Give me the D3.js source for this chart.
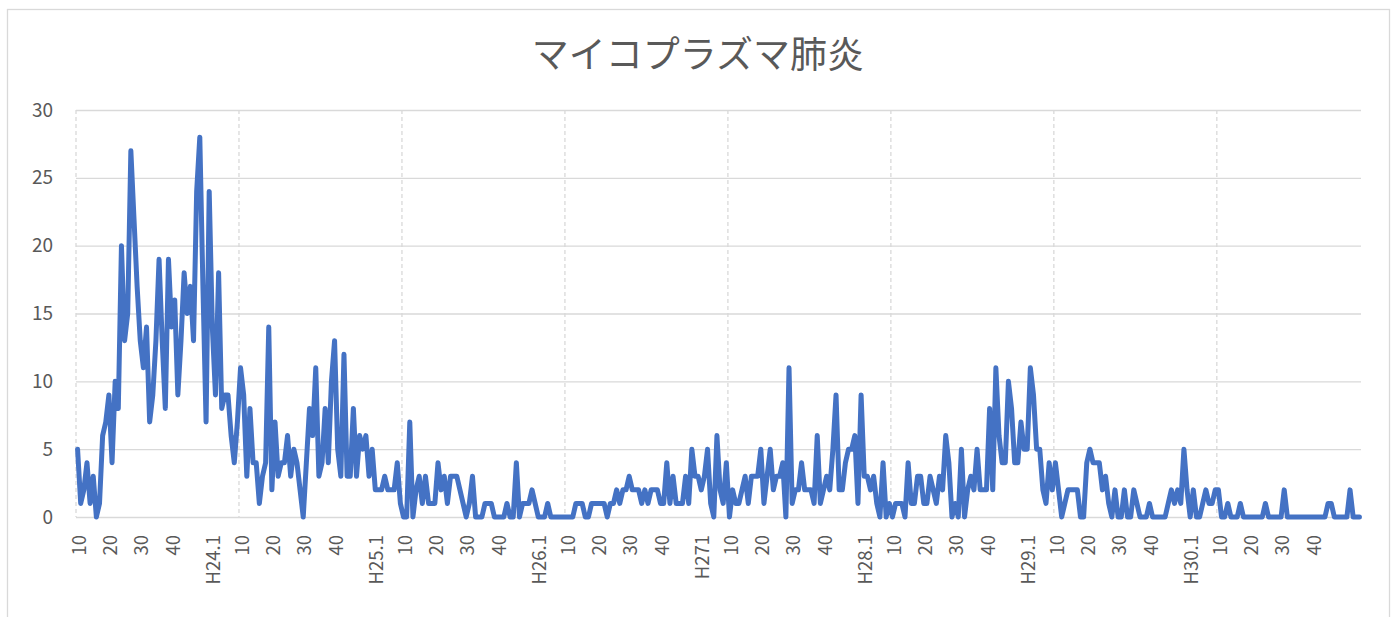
<!DOCTYPE html>
<html>
<head>
<meta charset="utf-8">
<script src="https://cdn.jsdelivr.net/npm/d3@7"></script>
<style>
  html, body { margin: 0; padding: 0; background: #ffffff; }
  svg { display: block; }
  text { font-family: "Noto Sans CJK JP", "Noto Sans", sans-serif; fill: #595959; }
</style>
</head>
<body>
<svg id="chart" width="1400" height="617"></svg>
<script>
// Weekly reported cases of mycoplasma pneumonia, from H23 week 9 onwards.
const cases = [
  // H23 (from week 9) / start of H24
  5,1,2,4,1,3,0,1,6,7, 9,4,10,8,20,13,15,27,22,17, 13,11,14,7,9,13,19,13,8,19,
  14,16,9,13,18,15,17,13,24,28, 17,7,24,14,9,18,8,9,9,6, 4,7,
  11,9,3,8,4,4,1,3,4,14, 2,7,3,4,4,6,3,5,4,2, 0,4,8,6,11,3,4,8,4,10,
  13,5,3,12,3,3,8,3,6,5, 6,3,5,2,2,2,3,2,2,2, 4,1,
  0,0,7,0,2,3,1,3,1,1, 1,4,2,3,1,3,3,3,2,1, 0,1,3,0,0,0,1,1,1,0,
  0,0,0,1,0,0,4,0,1,1, 1,2,1,0,0,0,1,0,0,0, 0,0,
  0,0,0,1,1,1,0,0,1,1, 1,1,1,0,1,1,2,1,2,2, 3,2,2,2,1,2,1,2,2,2,
  1,1,4,1,3,1,1,1,3,1, 5,3,3,2,3,5,1,0,6,2, 1,4,
  0,2,1,1,2,3,1,3,3,3, 5,1,3,5,2,3,3,4,0,11, 1,2,2,4,2,2,2,1,6,1,
  2,3,2,5,9,2,2,4,5,5, 6,1,9,3,3,2,3,1,0,4, 0,1,
  0,1,1,1,0,4,1,1,3,3, 1,1,3,2,1,3,2,6,4,0, 1,0,5,0,2,3,2,5,2,2,
  2,8,2,11,6,4,4,10,8,4, 4,7,5,5,11,9,5,5,2,1, 4,2,
  4,2,0,1,2,2,2,2,0,0, 4,5,4,4,4,2,3,1,0,2, 0,0,2,0,0,2,1,0,0,0,
  1,0,0,0,0,0,1,2,1,2, 1,5,2,0,2,0,0,1,2,1, 1,2,
  2,0,0,1,0,0,0,1,0,0, 0,0,0,0,0,1,0,0,0,0, 0,2,0,0,0,0,0,0,0,0,
  0,0,0,0,0,1,1,0,0,0, 0,0,2,0,0,0
];

const yTicks = [0, 5, 10, 15, 20, 25, 30];
const yearLabels = ["H24.1", "H25.1", "H26.1", "H271", "H28.1", "H29.1", "H30.1"];
const weekMarks = [10, 20, 30, 40];
const firstWeek = 9;        // first week of the series in H23
const weeksPerYear = 52;
const gridEvery = 52;       // vertical gridline interval (categories)
const title = "マイコプラズマ肺炎";

// Category label for each week: year start gets the year label, weeks 10/20/30/40 get the number.
const firstYearLen = weeksPerYear - firstWeek + 1;
const weekLabel = cases.map((_, i) => {
  if (i < firstYearLen) {
    const wk = firstWeek + i;
    return weekMarks.includes(wk) ? String(wk) : "";
  }
  const j = i - firstYearLen;
  const yr = Math.floor(j / weeksPerYear);
  const wk = (j % weeksPerYear) + 1;
  if (yr >= yearLabels.length) return "";
  if (wk === 1) return yearLabels[yr];
  return weekMarks.includes(wk) ? String(wk) : "";
});

const svg = d3.select("#chart");
const plot = { left: 76, right: 1361, top: 110, bottom: 517 };

// outer chart frame
svg.append("rect")
  .attr("x", 7.5).attr("y", 9.5)
  .attr("width", 1382).attr("height", 640)
  .attr("fill", "#ffffff")
  .attr("stroke", "#d9d9d9").attr("stroke-width", 1.3);

const x = d3.scaleBand()
  .domain(d3.range(cases.length))
  .range([plot.left, plot.right])
  .paddingInner(0).paddingOuter(0);
const bw = x.bandwidth();
const cx = i => x(i) + bw / 2;

const y = d3.scaleLinear().domain([0, 30]).range([plot.bottom, plot.top]);

// horizontal gridlines + value labels
const yAxis = d3.axisLeft(y)
  .tickValues(yTicks)
  .tickSize(-(plot.right - plot.left))
  .tickPadding(23);
const gy = svg.append("g")
  .attr("transform", `translate(${plot.left},0)`)
  .call(yAxis);
gy.select(".domain").remove();
gy.selectAll(".tick line").attr("stroke", "#d9d9d9").attr("stroke-width", 1.3);
gy.selectAll(".tick text")
  .attr("font-size", 19)
  .attr("fill", "#595959")
  .style("font-family", "'Noto Sans CJK JP', 'Noto Sans', sans-serif");

// dashed vertical gridlines every 52 categories
const vIdx = d3.range(0, cases.length, gridEvery);
svg.append("g").selectAll("line")
  .data(vIdx)
  .join("line")
  .attr("x1", i => x(i)).attr("x2", i => x(i))
  .attr("y1", plot.top).attr("y2", plot.bottom)
  .attr("stroke", "#d9d9d9").attr("stroke-width", 1.3)
  .attr("stroke-dasharray", "4,3");

// category labels (rotated)
const labelIdx = d3.range(cases.length).filter(i => weekLabel[i] !== "");
const xAxis = d3.axisBottom(x)
  .tickValues(labelIdx)
  .tickFormat(i => weekLabel[i])
  .tickSize(0);
const gx = svg.append("g")
  .attr("transform", `translate(0,${plot.bottom})`)
  .call(xAxis);
gx.select(".domain").remove();
gx.selectAll(".tick text")
  .attr("font-size", 18.5)
  .attr("fill", "#595959")
  .style("font-family", "'Noto Sans CJK JP', 'Noto Sans', sans-serif")
  .attr("text-anchor", "end")
  .attr("transform", "translate(0,18) rotate(-90)")
  .attr("x", 0).attr("y", 0).attr("dy", "0.27em");

// the series line
const line = d3.line()
  .x((d, i) => cx(i))
  .y(d => y(d));
svg.append("path")
  .datum(cases)
  .attr("d", line)
  .attr("fill", "none")
  .attr("stroke", "#4472c4")
  .attr("stroke-width", 5)
  .attr("stroke-linejoin", "round")
  .attr("stroke-linecap", "round");

// title
svg.append("text")
  .attr("x", 698).attr("y", 68)
  .attr("text-anchor", "middle")
  .attr("font-size", 37)
  .attr("fill", "#595959")
  .text(title);
</script>
</body>
</html>
